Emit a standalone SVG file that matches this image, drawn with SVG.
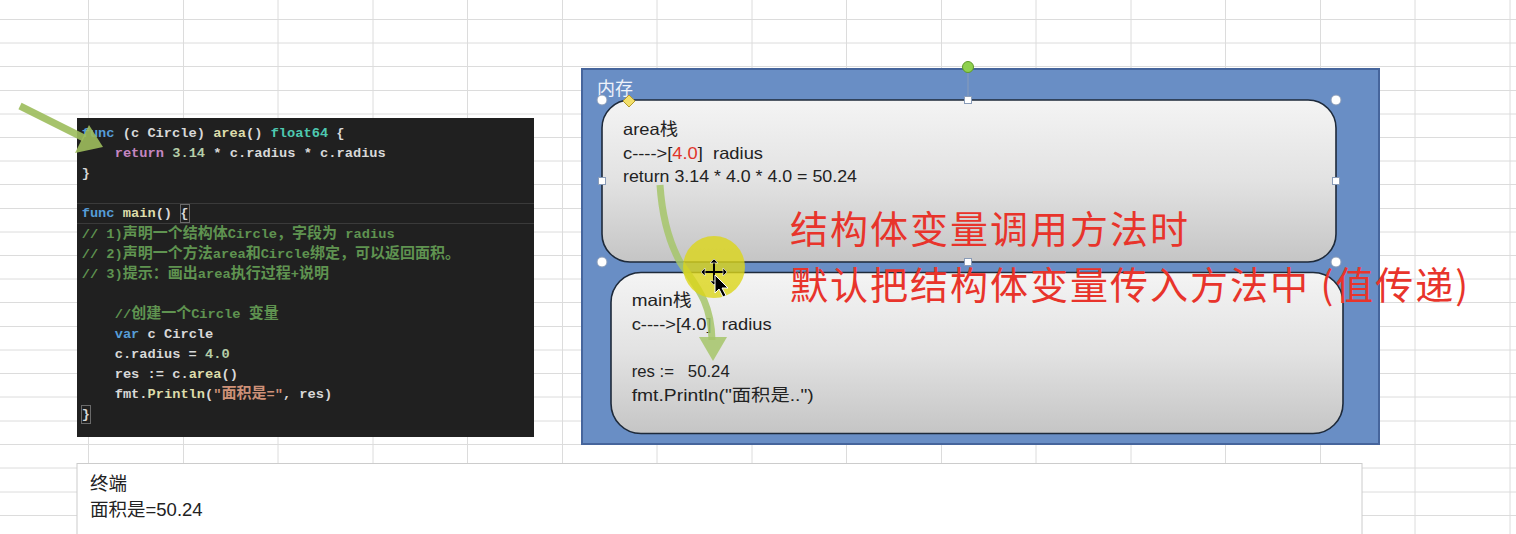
<svg xmlns="http://www.w3.org/2000/svg" width="1516" height="534" viewBox="0 0 1516 534">
<defs>
<style>
.grid{stroke:#dcdcdc;stroke-width:1;fill:none}
.code{font-family:"Liberation Mono","Noto Sans CJK SC",monospace;font-size:13.7px;font-weight:bold;fill:#d8d8d8;white-space:pre}
.cj{font-family:"Noto Sans CJK SC",sans-serif;font-size:15px}
.kw{fill:#569cd6}.fn{fill:#dcdcaa}.ty{fill:#4ec9b0}.ret{fill:#c586c0}.num{fill:#b5cea8}.cm{fill:#5f9350}.str{fill:#ce9178}
.st{font-family:"Liberation Sans","Noto Sans CJK SC",sans-serif;font-size:16.5px;fill:#222}
.note{font-family:"Noto Sans CJK SC",sans-serif;font-size:38px;letter-spacing:2px;fill:#e8342b}
.term{font-family:"Liberation Sans","Noto Sans CJK SC",sans-serif;font-size:18.5px;fill:#222}
.hc{fill:#ffffff;stroke:#8a9cb8;stroke-width:1}
.arrowc{fill:none;stroke:#a6c56a;stroke-width:7;opacity:0.85}
</style>
<linearGradient id="boxg" x1="0" y1="0" x2="0" y2="1">
<stop offset="0" stop-color="#f4f4f4"/>
<stop offset="0.5" stop-color="#e2e2e2"/>
<stop offset="1" stop-color="#c5c5c5"/>
</linearGradient>
</defs>
<rect width="1516" height="534" fill="#ffffff"/>
<g id="grid">
<path class="grid" d="M88.5 0V534M183.5 0V534M278 0V534M373 0V534M467.5 0V534M562.5 0V534M657 0V534M752 0V534M846.5 0V534M941.5 0V534M1036 0V534M1131 0V534M1225.5 0V534M1320.5 0V534M1415 0V534M1510 0V534M0 19.5H1516M0 43H1516M0 66.5H1516M0 90.5H1516M0 114H1516M0 137.5H1516M0 161H1516M0 184.5H1516M0 208.5H1516M0 232H1516M0 255.5H1516M0 279H1516M0 302.5H1516M0 326.5H1516M0 350H1516M0 373.5H1516M0 397H1516M0 421H1516M0 444.5H1516M0 468H1516M0 492H1516M0 515.5H1516"/>
</g>
<g id="code-panel">
<rect x="77" y="118" width="457" height="319" fill="#202020"/>
<path d="M77 203.5H534M77 223.5H534" stroke="#3a3a3a" stroke-width="1"/>
<rect x="180.5" y="204.5" width="9" height="18" fill="none" stroke="#6a6a6a" stroke-width="1"/>
<rect x="81.5" y="405.5" width="9" height="18" fill="none" stroke="#6a6a6a" stroke-width="1"/>
<text class="code" x="81.7" y="137"><tspan class="kw">func</tspan> (c Circle) <tspan class="fn">area</tspan>() <tspan class="ty">float64</tspan> {</text>
<text class="code" x="114.7" y="157.1"><tspan class="ret">return</tspan> <tspan class="num">3.14</tspan> * c.radius * c.radius</text>
<text class="code" x="81.7" y="177.2">}</text>
<text class="code" x="81.7" y="217.4"><tspan class="kw">func</tspan> <tspan class="fn">main</tspan>() {</text>
<text class="code cm" x="81.7" y="237.5">// 1)<tspan class="cj">声明一个结构体</tspan>Circle<tspan class="cj">，字段为</tspan> radius</text>
<text class="code cm" x="81.7" y="257.6">// 2)<tspan class="cj">声明一个方法</tspan>area<tspan class="cj">和</tspan>Circle<tspan class="cj">绑定，可以返回面积。</tspan></text>
<text class="code cm" x="81.7" y="277.7">// 3)<tspan class="cj">提示：画出</tspan>area<tspan class="cj">执行过程</tspan>+<tspan class="cj">说明</tspan></text>
<text class="code cm" x="114.7" y="317.9">//<tspan class="cj">创建一个</tspan>Circle <tspan class="cj">变量</tspan></text>
<text class="code" x="114.7" y="338"><tspan class="kw">var</tspan> c Circle</text>
<text class="code" x="114.7" y="358.1">c.radius = <tspan class="num">4.0</tspan></text>
<text class="code" x="114.7" y="378.2">res := c.<tspan class="fn">area</tspan>()</text>
<text class="code" x="114.7" y="398.3">fmt.<tspan class="fn">Println</tspan>(<tspan class="str">"<tspan class="cj">面积是</tspan>="</tspan>, res)</text>
<text class="code" x="81.7" y="418.4">}</text>
</g>
<g id="terminal">
<rect x="77" y="463.5" width="1285" height="80" fill="#ffffff" stroke="#cccccc" stroke-width="1"/>
<text class="term" x="90" y="490">终端</text>
<text class="term" x="90" y="516">面积是=50.24</text>
</g>
<g id="memory">
<rect x="582" y="69" width="797" height="375" fill="#698ec5" stroke="#46659c" stroke-width="2"/>
<text x="597" y="95" font-family="Noto Sans CJK SC,sans-serif" font-size="18" fill="#eef2fa">内存</text>
</g>
<g id="area-stack">
<rect x="602" y="100" width="734" height="162" rx="28" fill="url(#boxg)" stroke="#1e2a3a" stroke-width="1.6"/>
<text class="st" x="623" y="135" textLength="55" lengthAdjust="spacingAndGlyphs">area栈</text>
<text class="st" x="623" y="158.5" xml:space="preserve" textLength="140" lengthAdjust="spacingAndGlyphs">c----&gt;[<tspan fill="#e0352b">4.0</tspan>]  radius</text>
<text class="st" x="623" y="182" textLength="234" lengthAdjust="spacingAndGlyphs">return 3.14 * 4.0 * 4.0 = 50.24</text>
</g>
<g id="main-stack">
<rect x="611" y="272.5" width="732" height="161" rx="30" fill="url(#boxg)" stroke="#1e2a3a" stroke-width="1.6"/>
<text class="st" x="631.7" y="306" textLength="60" lengthAdjust="spacingAndGlyphs">main栈</text>
<text class="st" x="631.7" y="329.5" xml:space="preserve" textLength="140" lengthAdjust="spacingAndGlyphs">c----&gt;[4.0]  radius</text>
<text class="st" x="631.7" y="376.5" xml:space="preserve" textLength="98" lengthAdjust="spacingAndGlyphs">res :=   50.24</text>
<text class="st" x="631.7" y="400.5" textLength="182" lengthAdjust="spacingAndGlyphs">fmt.Println("面积是..")</text>
</g>
<g id="handles">
<line x1="968" y1="72" x2="968" y2="97" stroke="#8a9cb8" stroke-width="1"/>
<circle cx="968" cy="67" r="5.5" fill="#8fd14f" stroke="#5f9a2a" stroke-width="1"/>
<circle class="hc" cx="602" cy="100" r="5"/>
<circle class="hc" cx="1336" cy="100" r="5"/>
<circle class="hc" cx="602" cy="262" r="5"/>
<circle class="hc" cx="1336" cy="262" r="5"/>
<rect class="hc" x="964.5" y="96.5" width="7" height="7"/>
<rect class="hc" x="964.5" y="258.5" width="7" height="7"/>
<rect class="hc" x="598.5" y="177.5" width="7" height="7"/>
<rect class="hc" x="1332.5" y="177.5" width="7" height="7"/>
<path d="M629 95L635 101L629 107L623 101Z" fill="#f3df6a" stroke="#b39a2e" stroke-width="1"/>
</g>
<g id="note">
<text class="note" x="790" y="243">结构体变量调用方法时</text>
<text class="note" x="790" y="298.5">默认把结构体变量传入方法中 (值传递)</text>
</g>
<g id="connectors">
<path class="arrowc" d="M660 185C662 215 668 240 680 262C695 285 711 300 712 340"/>
<path d="M713 361L699 337L727 337Z" fill="#a6c56a" opacity="0.85"/>
<path d="M20 106L84 138" stroke="#9dbd5c" stroke-width="7" opacity="0.9"/>
<path d="M103 147L89 125L75 153Z" fill="#9dbd5c" opacity="0.9"/>
</g>
<g id="cursor-highlight">
<circle cx="714" cy="267" r="31" fill="#dcd619" opacity="0.8"/>
<path d="M714 261V283M703 272H725" stroke="#000" stroke-width="2"/>
<path d="M714 259L710 263H718ZM714 285L710 281H718ZM701 272L705 268V276ZM727 272L723 268V276Z" fill="#000" stroke="#fff" stroke-width="0.6"/>
<path d="M715 275V293L719 289L723 297L726 295.5L722 288L728 288Z" fill="#000" stroke="#fff" stroke-width="1"/>
</g>
</svg>
